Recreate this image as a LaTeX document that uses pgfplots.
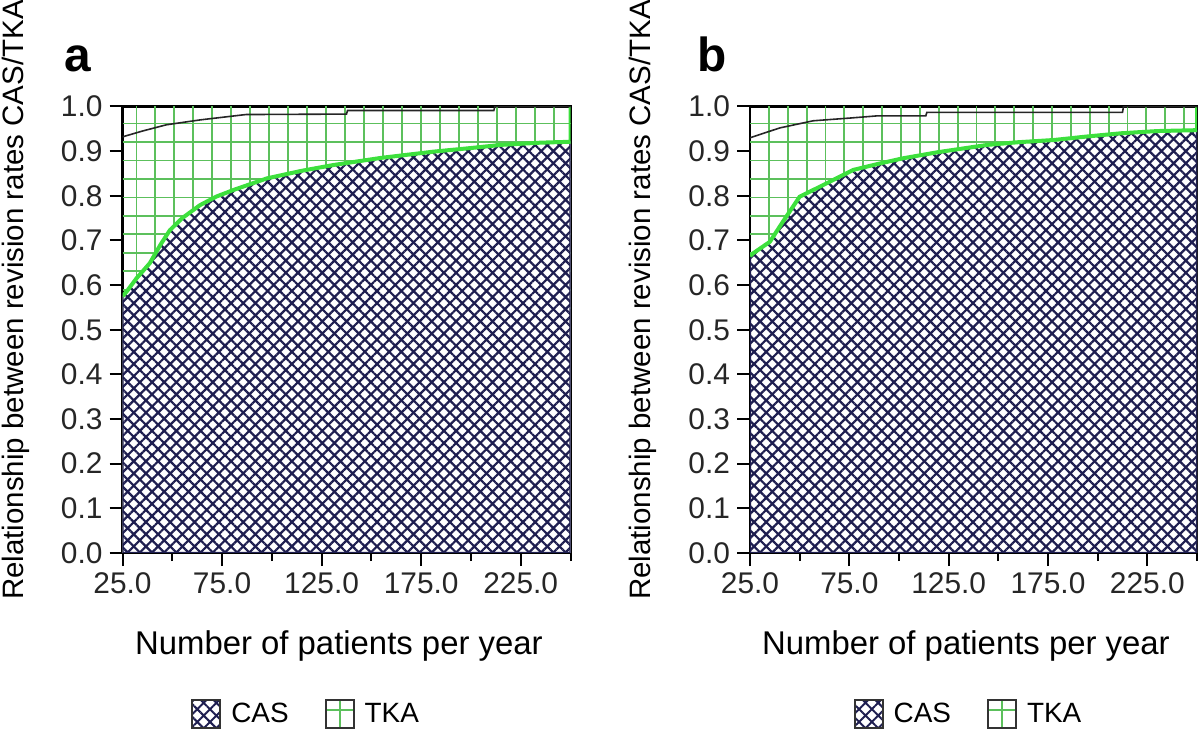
\documentclass[border=0pt]{standalone}
\usepackage{pgfplots}
\pgfplotsset{compat=1.18}
\usetikzlibrary{patterns.meta}
\usepackage{fontspec}
\setmainfont{Liberation Sans}

\definecolor{navy}{HTML}{1E1E50}
\definecolor{gridgreen}{HTML}{5CC05C}
\definecolor{curvegreen}{HTML}{3DE03D}

\pgfplotsset{
  panel/.style={
    scale only axis, width=224bp, height=223.25bp,
    xmin=25, xmax=250, ymin=0, ymax=1,
    anchor=south west,
    axis on top=false,
    axis line style={line width=1.1bp, draw=black},
    xtick={25,75,125,175,225}, minor xtick={50,100,150,200,250},
    ytick={0,0.1,0.2,0.3,0.4,0.5,0.6,0.7,0.8,0.9,1.0},
    extra y ticks={0.962,0.921,0.879,0.838,0.796,0.755,0.714,0.672,0.631,0.589,0.548},
    extra y tick labels={},
    extra y tick style={major tick length=0pt, grid=major, major grid style={gridgreen, line width=0.9bp}},
    extra x tick labels={},
    extra x tick style={major tick length=0pt, grid=major, major grid style={gridgreen, line width=0.9bp}},
    tick align=outside, xtick pos=bottom, ytick pos=left,
    major tick length=6.5bp, minor tick length=4bp,
    every tick/.style={black, line width=1bp},
    tick label style={font=\fontsize{15}{18}\selectfont, text=black!85},
    /pgf/number format/fixed, /pgf/number format/fixed zerofill,
    /pgf/number format/precision=1, /pgf/number format/assume math mode=true,
    xlabel={Number of patients per year},
    ylabel={Relationship between revision rates CAS/TKA},
    xlabel style={font=\fontsize{16.5}{20}\selectfont, at={(axis description cs:0.483,-0.228)}, anchor=base},
    ylabel style={font=\fontsize{14.8}{18}\selectfont, at={(axis description cs:-0.222,-0.121)}, anchor=base west},
    legend columns=2,
    legend style={draw=none, fill=none, anchor=center, font=\fontsize{14}{17}\selectfont,
      /tikz/every odd column/.append style={column sep=3bp},
      /tikz/every even column/.append style={column sep=16bp}},
  },
  caslegend/.style={legend image code/.code={\draw[pattern={Hatch[angle=45, distance=4.5bp, line width=1bp]}, pattern color=navy, draw=black!80, line width=1bp] (0bp,-7bp) rectangle (14bp,7bp);}},
  tkalegend/.style={legend image code/.code={\draw[draw=gridgreen, line width=0.9bp] (7bp,-7bp) -- (7bp,7bp) (0bp,2bp) -- (14bp,2bp);\draw[draw=black!80, line width=1bp] (0bp,-7bp) rectangle (14bp,7bp);}},
}

\begin{document}
\begin{tikzpicture}

% ---------------- panel a ----------------
\begin{axis}[panel, at={(61.25bp,94bp)},
  extra x ticks={32.0,41.5,51.0,60.6,70.1,79.6,89.2,98.7,108.2,117.7,127.3,136.8,146.3,155.8,165.4,174.9,184.4,193.9,203.5,213.0,222.5,232.0,241.6},
  legend style={at={(axis description cs:0.412,-0.3606)}}]
\addplot[forget plot, fill=white, draw=none]
coordinates {(25,0.575)(27,0.585)(32,0.615)(38.7,0.649)(44,0.69)(48.8,0.723)(55,0.75)(63.9,0.779)(72,0.798)(80.7,0.813)(97.5,0.839)(115,0.856)(131,0.869)(155,0.885)(181.4,0.899)(200,0.907)(215,0.914)(235,0.919)(250,0.921)} \closedcycle;
\addplot[caslegend, draw=navy, line width=1.2bp, pattern={Hatch[angle=45, distance=4.3bp, line width=1.1bp]}, pattern color=navy]
coordinates {(25,0.575)(27,0.585)(32,0.615)(38.7,0.649)(44,0.69)(48.8,0.723)(55,0.75)(63.9,0.779)(72,0.798)(80.7,0.813)(97.5,0.839)(115,0.856)(131,0.869)(155,0.885)(181.4,0.899)(200,0.907)(215,0.914)(235,0.919)(250,0.921)} \closedcycle;
\addlegendentry{CAS}
\addplot[tkalegend, draw=none]
coordinates {(25,0.932)(35,0.945)(47,0.959)(64,0.970)(87,0.982)(137.5,0.983)(138,0.991)(211.5,0.991)(212,1.0)(250,1.0)
(250,0.921)(235,0.919)(215,0.914)(200,0.907)(181.4,0.899)(155,0.885)(131,0.869)(115,0.856)(97.5,0.839)(80.7,0.813)(72,0.798)(63.9,0.779)(55,0.75)(48.8,0.723)(44,0.69)(38.7,0.649)(32,0.615)(27,0.585)(25,0.575)};
\addlegendentry{TKA}
\addplot[forget plot, curvegreen, line width=2bp]
coordinates {(25,0.575)(27,0.585)(32,0.615)(38.7,0.649)(44,0.69)(48.8,0.723)(55,0.75)(63.9,0.779)(72,0.798)(80.7,0.813)(97.5,0.839)(115,0.856)(131,0.869)(155,0.885)(181.4,0.899)(200,0.907)(215,0.914)(235,0.919)(250,0.921)(250,1.0)};
\addplot[forget plot, black!85, line width=0.8bp]
coordinates {(25,0.932)(35,0.945)(47,0.959)(64,0.970)(87,0.982)(137.5,0.983)(138,0.991)(211.5,0.991)(212,1.0)(250,1.0)};
\end{axis}

% ---------------- panel b ----------------
\begin{axis}[panel, at={(375bp,94bp)}, width=223.5bp,
  extra x ticks={34.5,44.0,53.5,63.0,72.5,82.0,91.5,101.0,110.5,120.0,129.5,139.0,148.5,158.0,167.5,177.0,186.5,196.0,205.5,215.0,224.5,234.0,243.5},
  legend style={at={(axis description cs:0.491,-0.3606)}}]
\addplot[forget plot, fill=white, draw=none]
coordinates {(25,0.665)(26.5,0.671)(35,0.697)(42,0.745)(50,0.798)(60,0.82)(77,0.858)(90,0.872)(102,0.884)(120,0.898)(144.5,0.914)(160,0.92)(178,0.925)(195,0.933)(211.7,0.94)(230,0.945)(250,0.947)} \closedcycle;
\addplot[caslegend, draw=navy, line width=1.2bp, pattern={Hatch[angle=45, distance=4.3bp, line width=1.1bp]}, pattern color=navy]
coordinates {(25,0.665)(26.5,0.671)(35,0.697)(42,0.745)(50,0.798)(60,0.82)(77,0.858)(90,0.872)(102,0.884)(120,0.898)(144.5,0.914)(160,0.92)(178,0.925)(195,0.933)(211.7,0.94)(230,0.945)(250,0.947)} \closedcycle;
\addlegendentry{CAS}
\addplot[tkalegend, draw=none]
coordinates {(25,0.93)(40,0.952)(56.8,0.968)(75,0.974)(89,0.979)(113.5,0.979)(114,0.987)(212.5,0.987)(213,1.0)(250,1.0)
(250,0.947)(230,0.945)(211.7,0.94)(195,0.933)(178,0.925)(160,0.92)(144.5,0.914)(120,0.898)(102,0.884)(90,0.872)(77,0.858)(60,0.82)(50,0.798)(42,0.745)(35,0.697)(26.5,0.671)(25,0.665)};
\addlegendentry{TKA}
\addplot[forget plot, curvegreen, line width=2bp]
coordinates {(25,0.665)(26.5,0.671)(35,0.697)(42,0.745)(50,0.798)(60,0.82)(77,0.858)(90,0.872)(102,0.884)(120,0.898)(144.5,0.914)(160,0.92)(178,0.925)(195,0.933)(211.7,0.94)(230,0.945)(250,0.947)(250,1.0)};
\addplot[forget plot, black!85, line width=0.8bp]
coordinates {(25,0.93)(40,0.952)(56.8,0.968)(75,0.974)(89,0.979)(113.5,0.979)(114,0.987)(212.5,0.987)(213,1.0)(250,1.0)};
\end{axis}

\node[font=\fontsize{24}{28}\selectfont\bfseries, anchor=base] at (38.75bp,334.5bp) {a};
\node[font=\fontsize{24}{28}\selectfont\bfseries, anchor=base] at (356bp,334.5bp) {b};

\pgfresetboundingbox
\path[use as bounding box] (0,0) rectangle (600bp,370.5bp);
\end{tikzpicture}
\end{document}
